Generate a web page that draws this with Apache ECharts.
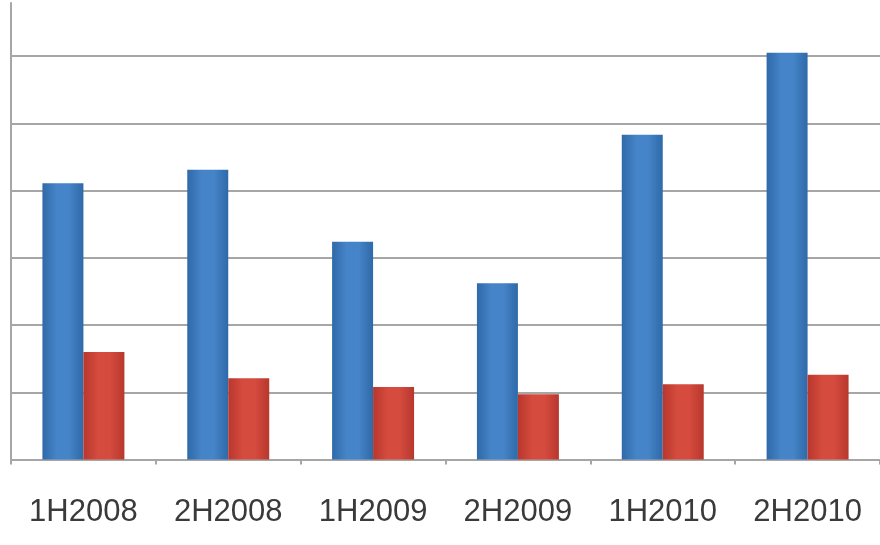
<!DOCTYPE html>
<html>
<head>
<meta charset="utf-8">
<script src="https://cdn.jsdelivr.net/npm/echarts@6/dist/echarts.min.js"></script>
<style>
html,body{margin:0;padding:0;background:#fff;}
#c{width:880px;height:545px;}
</style>
</head>
<body>
<div id="c"></div>
<script>
const categories = ['1H2008','2H2008','1H2009','2H2009','1H2010','2H2010'];
const blueValues = [4.11, 4.31, 3.24, 2.62, 4.83, 6.05];
const redValues = [1.60, 1.21, 1.08, 0.97, 1.12, 1.26];

const chart = echarts.init(document.getElementById('c'), null, {renderer:'canvas'});
function grad(edge, mid){
  return new echarts.graphic.LinearGradient(0,0,1,0,[
    {offset:0,color:edge},{offset:0.35,color:mid},{offset:0.65,color:mid},{offset:1,color:edge}
  ]);
}
chart.setOption({
  animation:false,
  backgroundColor:'#fff',
  grid:{left:11,right:-3,top:3,bottom:85.5,containLabel:false},
  xAxis:{
    type:'category',
    data:categories,
    boundaryGap:true,
    axisLine:{show:true,lineStyle:{color:'#a6a6a6',width:2}},
    axisTick:{show:true,inside:false,length:5,interval:0,lineStyle:{color:'#a6a6a6',width:2}},
    axisLabel:{interval:0,color:'#3a3a3a',fontFamily:'"Liberation Sans",sans-serif',fontSize:31,margin:37}
  },
  yAxis:{
    type:'value',
    min:0,max:6.79,interval:1,
    axisLine:{show:true,lineStyle:{color:'#a6a6a6',width:2}},
    axisTick:{show:false},
    axisLabel:{show:false},
    splitLine:{show:true,showMaxLine:false,lineStyle:{color:'#a6a6a6',width:2}}
  },
  series:[
    {type:'bar',data:blueValues,barWidth:'28.3%',barGap:'0%',
     itemStyle:{color:grad('#2f69a8','#4584c8')}},
    {type:'bar',data:redValues,barWidth:'28.3%',barGap:'0%',
     itemStyle:{color:grad('#b8372d','#d54b3e')}}
  ]
});
</script>
</body>
</html>
